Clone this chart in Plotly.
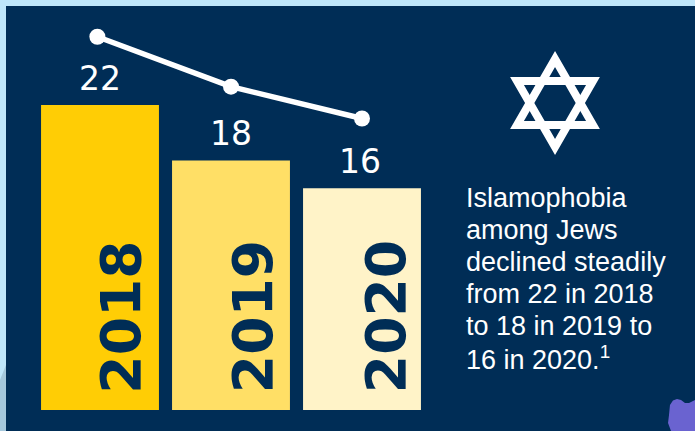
import plotly.graph_objects as go

W, H = 695, 431
NAVY = "#002D56"
years = ["2018", "2019", "2020"]
bar_positions = [0, 1, 2]
values = [22, 18, 16]
bar_colors = ["#FFCD05", "#FFDF66", "#FFF3C8"]
trend_positions = [-0.02, 1, 2]
trend_values = [26.93, 23.33, 21.03]
note_lines = ["Islamophobia", "among Jews", "declined steadily", "from 22 in 2018",
              "to 18 in 2019 to", "16 in 2020.<sup>1</sup>"]

fig = go.Figure()
fig.add_trace(go.Bar(x=bar_positions, y=values, width=0.9, marker=dict(color=bar_colors, line=dict(width=0)),
                     hoverinfo="skip"))
fig.add_trace(go.Scatter(x=trend_positions, y=trend_values, mode="lines+markers",
                         line=dict(color="white", width=5.5), marker=dict(color="white", size=16),
                         hoverinfo="skip"))

annotations = []
for pos, v, yr, dx, lx in zip(bar_positions, values, years, [21.5, 22, 24], [0, 0, -2]):
    annotations.append(dict(x=pos, y=v, xref="x", yref="y", text=str(v), showarrow=False,
                            yanchor="middle", yshift=27, xshift=lx,
                            font=dict(family="DejaVu Sans", size=33, color="white")))
    annotations.append(dict(x=pos, y=6.7, xref="x", yref="y", text=f"<b>{yr}</b>", showarrow=False,
                            textangle=-90, xshift=dx,
                            font=dict(family="DejaVu Sans", size=55, color=NAVY)))
for i, line in enumerate(note_lines):
    annotations.append(dict(x=464/W, y=1-((198 + i*32)/H), xref="paper", yref="paper", xanchor="left",
                            yanchor="middle", align="left", showarrow=False, text=line,
                            font=dict(family="Liberation Sans", size=27, color="white")))

def px(x, y):
    return f"{x/W:.4f},{1-y/H:.4f}"

def path(pts):
    return "M " + " L ".join(px(*p) for p in pts) + " Z"

shapes = [
    dict(type="rect", xref="paper", yref="paper", x0=6/W, x1=1, y0=0, y1=1-6/H,
         fillcolor=NAVY, line=dict(width=0), layer="below"),
    dict(type="path", xref="paper", yref="paper", path=path([(0, 380), (6, 365), (6, 431), (0, 431)]),
         fillcolor="#A5C8DC", line=dict(width=0), layer="below"),
    dict(type="path", xref="paper", yref="paper",
         path=path([(670, 405), (673, 400.5), (677, 399), (681, 400), (685, 403), (689, 403), (695, 400),
                    (695, 431), (671, 431), (668, 423), (669, 415)]),
         fillcolor="#6A63D0", line=dict(width=0), layer="below"),
    dict(type="path", xref="paper", yref="paper", path=path([(555, 59), (593, 125), (517, 125)]),
         fillcolor="rgba(0,0,0,0)", line=dict(color="white", width=8), layer="above"),
    dict(type="path", xref="paper", yref="paper", path=path([(555, 147), (593, 81), (517, 81)]),
         fillcolor="rgba(0,0,0,0)", line=dict(color="white", width=8), layer="above"),
]

fig.update_layout(
    width=W, height=H, margin=dict(l=0, r=0, t=0, b=0), showlegend=False,
    paper_bgcolor="#BFE6FA", plot_bgcolor="rgba(0,0,0,0)",
    xaxis=dict(range=[-100/131, 595/131], domain=[0, 1], visible=False),
    yaxis=dict(range=[0, 410/13.86], domain=[21/H, 1], visible=False),
    shapes=shapes, annotations=annotations,
)
fig.write_html("out.html", config={"displayModeBar": False},
               post_script="document.body.style.margin='0';document.documentElement.style.overflow='hidden';")
